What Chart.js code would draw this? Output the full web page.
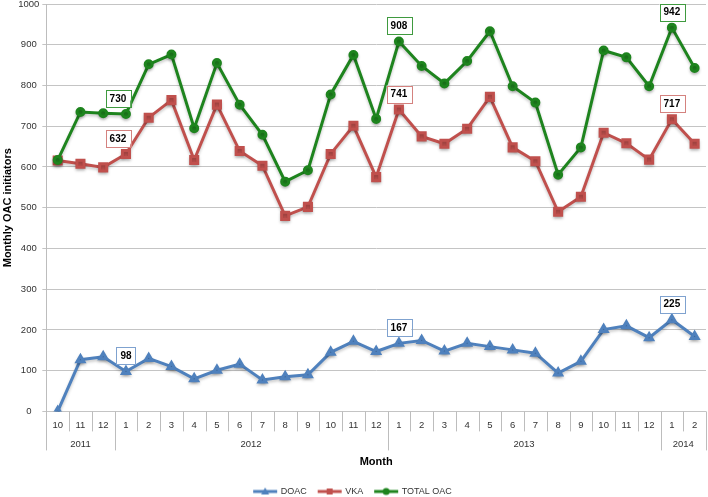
<!DOCTYPE html>
<html lang="en">
<head>
<meta charset="UTF-8" />
<title>Monthly OAC initiators</title>
<script src="https://cdn.jsdelivr.net/npm/chart.js"></script>
<style>
  html, body { margin: 0; padding: 0; background: #fff; }
</style>
</head>
<body>
<canvas id="myChart" width="708" height="497"></canvas>
<script>
// months Oct 2011 .. Feb 2014
const months = ["10", "11", "12",
  "1", "2", "3", "4", "5", "6", "7", "8", "9", "10", "11", "12",
  "1", "2", "3", "4", "5", "6", "7", "8", "9", "10", "11", "12",
  "1", "2"];
const years = ["2011", "2012", "2013", "2014"];
const yearSpans = [3, 12, 12, 2];

const doac = [0, 127, 134, 98, 130, 110, 80, 101, 116, 77, 85, 90, 145, 172, 147,
  167, 174, 148, 167, 159, 151, 143, 94, 123, 201, 210, 181, 225, 184];
const vka = [616, 608, 599, 632, 721, 764, 617, 753, 639, 603, 480, 502, 632, 701, 575,
  741, 675, 657, 694, 772, 648, 614, 490, 527, 684, 658, 618, 717, 657];
const totalOac = [617, 735, 732, 730, 852, 876, 695, 855, 753, 679, 564, 592, 778, 875, 718,
  908, 848, 805, 860, 933, 798, 758, 581, 648, 886, 869, 798, 942, 843];

// points that carry a boxed value label (each January)
const labelledPoints = [3, 15, 27];

const FONT = "'Liberation Sans', Arial, sans-serif";

function legendSwatch(color, style) {
  const c = document.createElement("canvas");
  c.width = 26; c.height = 10;
  const g = c.getContext("2d");
  g.strokeStyle = color; g.fillStyle = color; g.lineWidth = 3;
  g.beginPath(); g.moveTo(1, 5); g.lineTo(25, 5); g.stroke();
  g.beginPath();
  if (style === "triangle") { g.moveTo(13, 1); g.lineTo(17, 8); g.lineTo(9, 8); g.closePath(); }
  else if (style === "rect") { g.rect(10, 2, 6, 6); }
  else { g.arc(13, 5, 3.5, 0, Math.PI * 2); }
  g.fill();
  return c;
}

const valueLabels = {
  id: "valueLabels",
  beforeDatasetsDraw(chart) {
    const ctx = chart.ctx;
    ctx.save();
    ctx.shadowColor = "rgba(0,0,0,0.22)";
    ctx.shadowBlur = 3;
    ctx.shadowOffsetY = 2;
  },
  afterDatasetsDraw(chart) {
    const ctx = chart.ctx;
    ctx.restore();
    ctx.save();
    ctx.font = "bold 10px " + FONT;
    ctx.textAlign = "center";
    ctx.textBaseline = "middle";
    chart.data.datasets.forEach((ds, di) => {
      const meta = chart.getDatasetMeta(di);
      labelledPoints.forEach((i) => {
        const pt = meta.data[i];
        const txt = String(ds.data[i]);
        // first January labels on VKA / TOTAL sit a little to the left
        const dx = (i === labelledPoints[0] && di > 0) ? -8 : 0;
        const w = ctx.measureText(txt).width + 8, h = 17;
        const cx = pt.x + dx, bottom = pt.y - 7;
        ctx.fillStyle = "#fff";
        ctx.fillRect(cx - w / 2, bottom - h, w, h);
        ctx.strokeStyle = ds.labelBorder;
        ctx.lineWidth = 1;
        ctx.strokeRect(Math.round(cx - w / 2) + 0.5, Math.round(bottom - h) + 0.5, Math.round(w), h);
        ctx.fillStyle = "#000";
        ctx.fillText(txt, cx, bottom - h / 2 + 0.5);
      });
    });
    ctx.restore();
  }
};

const yearRow = {
  id: "yearRow",
  afterDraw(chart) {
    const ctx = chart.ctx;
    const xs = chart.scales.x;
    const base = chart.chartArea.bottom;
    const half = (xs.getPixelForValue(1) - xs.getPixelForValue(0)) / 2;
    ctx.save();
    ctx.strokeStyle = "#bdbdbd";
    ctx.lineWidth = 1;
    const starts = [];
    let s = 0;
    yearSpans.forEach((n) => { starts.push(s); s += n; });
    for (let i = 0; i <= months.length; i++) {
      const x = Math.round(xs.getPixelForValue(Math.min(i, months.length - 1)) + (i === months.length ? half : -half)) + 0.5;
      const long = i === 0 || i === months.length || starts.includes(i);
      ctx.beginPath();
      ctx.moveTo(x, base);
      ctx.lineTo(x, base + (long ? 39 : 20));
      ctx.stroke();
    }
    ctx.fillStyle = "#333";
    ctx.font = "9.5px " + FONT;
    ctx.textAlign = "center";
    ctx.textBaseline = "middle";
    years.forEach((y, k) => {
      const a = xs.getPixelForValue(starts[k]) - half;
      const b = xs.getPixelForValue(starts[k] + yearSpans[k] - 1) + half;
      ctx.fillText(y, (a + b) / 2, base + 33);
    });
    ctx.restore();
  }
};

const ctx = document.getElementById("myChart").getContext("2d");
new Chart(ctx, {
  type: "line",
  data: {
    labels: months,
    datasets: [
      {
        label: "DOAC", data: doac, order: 2,
        borderColor: "#4f81bd", backgroundColor: "#4f81bd", labelBorder: "#7fa2cf",
        borderWidth: 3, pointStyle: "triangle", pointRadius: 4, tension: 0,
        swatch: legendSwatch("#4f81bd", "triangle")
      },
      {
        label: "VKA", data: vka, order: 1,
        borderColor: "#c0504d", backgroundColor: "#c0504d", labelBorder: "#d4827f",
        borderWidth: 3, pointStyle: "rect", pointRadius: 5, tension: 0,
        swatch: legendSwatch("#c0504d", "rect")
      },
      {
        label: "TOTAL OAC", data: totalOac, order: 0,
        borderColor: "#1e841e", backgroundColor: "#1e841e", labelBorder: "#3f9a3f",
        borderWidth: 3, pointStyle: "circle", pointRadius: 3.5, tension: 0,
        swatch: legendSwatch("#1e841e", "circle")
      }
    ]
  },
  options: {
    responsive: false,
    animation: false,
    layout: { autoPadding: false, padding: { top: 4, right: 2, left: 0, bottom: -9 } },
    plugins: {
      tooltip: { enabled: false },
      legend: {
        position: "bottom",
        labels: {
          usePointStyle: true,
          pointStyleWidth: 22,
          padding: 12,
          color: "#333",
          font: { family: FONT, size: 9 },
          generateLabels(chart) {
            return chart.data.datasets.map((ds, i) => ({
              text: ds.label, pointStyle: ds.swatch, datasetIndex: i,
              fillStyle: ds.borderColor, strokeStyle: ds.borderColor, lineWidth: 0, fontColor: "#333"
            }));
          }
        }
      }
    },
    scales: {
      x: {
        offset: true,
        afterFit(scale) { scale.paddingLeft = 0; scale.paddingRight = 0; },
        grid: { display: false, drawTicks: false },
        border: { display: false },
        ticks: { color: "#333", font: { family: FONT, size: 9.5 }, padding: 8, maxRotation: 0, autoSkip: false },
        title: {
          display: true, text: "Month", color: "#000",
          font: { family: FONT, size: 11, weight: "bold" },
          padding: { top: 17, bottom: 6 }
        }
      },
      y: {
        min: 0, max: 1000,
        afterFit(scale) { scale.paddingTop = 0; },
        ticks: { stepSize: 100, color: "#333", font: { family: FONT, size: 9.5 }, padding: 3,
          crossAlign: "center", callback: (v) => String(v) },
        grid: { color: "#c4c4c4", tickLength: 4 },
        border: { display: true, color: "#bdbdbd" },
        title: {
          display: true, text: "Monthly OAC initiators", color: "#000",
          font: { family: FONT, size: 11, weight: "bold" },
          padding: { top: 1, bottom: 1 }
        }
      }
    }
  },
  plugins: [valueLabels, yearRow]
});
</script>
</body>
</html>
